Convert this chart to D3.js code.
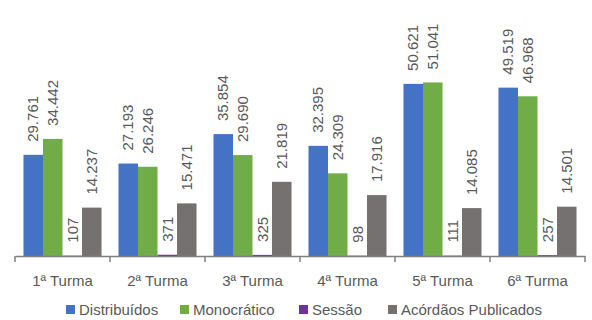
<!DOCTYPE html>
<html>
<head>
<meta charset="utf-8">
<script src="https://cdn.jsdelivr.net/npm/d3@7"></script>
<style>
  body { margin: 0; background: #fff; }
  text { font-family: "Liberation Sans", Arial, sans-serif; fill: #595959; }
</style>
</head>
<body>
<svg id="chart" width="592" height="320"></svg>
<script>
// categories and series
var turmas = ["1ª Turma", "2ª Turma", "3ª Turma", "4ª Turma", "5ª Turma", "6ª Turma"];
var seriesNames = ["Distribuídos", "Monocrático", "Sessão", "Acórdãos Publicados"];
var distribuidos = [29761, 27193, 35854, 32395, 50621, 49519];
var monocratico = [34442, 26246, 29690, 24309, 51041, 46968];
var sessao = [107, 371, 325, 98, 111, 257];
var acordaos = [14237, 15471, 21819, 17916, 14085, 14501];
var colors = ["#4472C4", "#70AD47", "#7030A0", "#767171"];

var allSeries = [distribuidos, monocratico, sessao, acordaos];

var svg = d3.select("#chart");

var xScale = d3.scaleBand()
  .domain(turmas)
  .range([15, 585]);

var inner = d3.scaleBand()
  .domain(seriesNames)
  .range([0, xScale.bandwidth()])
  .paddingOuter(0.435);

var yScale = d3.scaleLinear()
  .domain([0, 60000])
  .range([256, 52]);

var fmt = d3.formatLocale({decimal: ",", thousands: ".", grouping: [3], currency: ["R$", ""]}).format(",d");

// flatten into rows
var rows = [];
turmas.forEach(function (t, i) {
  seriesNames.forEach(function (s, j) {
    rows.push({turma: t, serie: s, value: allSeries[j][i], color: colors[j]});
  });
});

svg.append("g")
  .selectAll("rect")
  .data(rows)
  .enter().append("rect")
  .attr("x", function (d) { return xScale(d.turma) + inner(d.serie); })
  .attr("width", inner.bandwidth())
  .attr("y", function (d) { return yScale(d.value); })
  .attr("height", function (d) { return yScale(0) - yScale(d.value); })
  .attr("fill", function (d) { return d.color; });

// value labels, rotated
svg.append("g")
  .selectAll("text")
  .data(rows)
  .enter().append("text")
  .attr("transform", function (d) {
    var cx = xScale(d.turma) + inner(d.serie) + inner.bandwidth() / 2;
    return "translate(" + cx + "," + (yScale(d.value) - 13) + ") rotate(-90)";
  })
  .attr("dy", "0.35em")
  .style("font-size", "15px")
  .text(function (d) { return fmt(d.value); });

// bottom axis
var baxis = d3.axisBottom(xScale)
  .tickSize(0)
  .tickPadding(19);

var ax = svg.append("g")
  .attr("transform", "translate(0,256)")
  .call(baxis);
ax.select(".domain").attr("stroke", "#7f7f7f").attr("stroke-width", 1.5);
ax.selectAll(".tick text")
  .style("font-size", "15px")
  .attr("fill", "#595959");

// category separators
var bounds = turmas.map(function (t) { return xScale(t); }).concat([xScale.range()[1]]);
ax.selectAll(".sep")
  .data(bounds)
  .enter().append("line")
  .attr("class", "sep")
  .attr("x1", function (d) { return d; })
  .attr("x2", function (d) { return d; })
  .attr("y1", 0)
  .attr("y2", 6)
  .attr("stroke", "#7f7f7f")
  .attr("stroke-width", 1.5);

// legend
var legendX = [66, 180, 299, 388];
var legend = svg.append("g")
  .selectAll("g")
  .data(seriesNames)
  .enter().append("g")
  .attr("transform", function (d, i) { return "translate(" + legendX[i] + ",305)"; });

legend.append("rect")
  .attr("width", 9)
  .attr("height", 9)
  .attr("fill", function (d, i) { return colors[i]; });

legend.append("text")
  .attr("x", 13)
  .attr("y", 9.5)
  .style("font-size", "15px")
  .text(function (d) { return d; });
</script>
</body>
</html>
